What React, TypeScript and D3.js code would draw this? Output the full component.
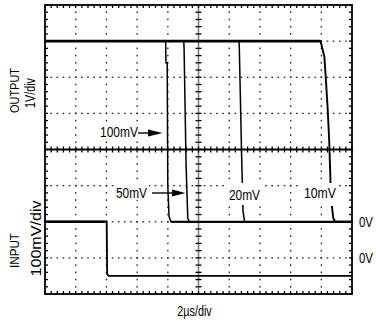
import React from "react";
import * as d3 from "d3";

// ---- data (time in µs, output in V, input in mV) ----
const timeDomain = [0, 20]; // 2µs/div, 10 divisions
const divDomain = [0, 8]; // 8 vertical divisions

const trace100mV_t = [0, 7.86, 7.88, 7.96, 8.0, 8.08, 8.2, 20];
const trace100mV_v = [5, 5, 4.4, 4.4, 1.0, 0.15, 0, 0];

const trace50mV_t = [0, 9.04, 9.06, 9.19, 9.3, 9.4, 20];
const trace50mV_v = [5, 5, 4.8, 1.6, 0.1, 0, 0];

const trace20mV_t = [0, 12.64, 12.66, 12.8, 12.9, 13.0, 20];
const trace20mV_v = [5, 5, 4.8, 2.0, 0.3, 0, 0];

const trace10mV_t = [0, 17.95, 18.2, 18.3, 18.42, 18.52, 18.6, 18.68, 18.78, 18.9, 20];
const trace10mV_v = [5, 5, 4.57, 3.93, 3.1, 2.18, 1.1, 0.47, 0.1, 0, 0];

const input_t = [0, 4.02, 4.05, 4.15, 20];
const input_mV = [100, 100, -45, -50, -50];

const traceLabels = ["100mV", "50mV", "20mV", "10mV"];
const zeroLabels = ["0V", "0V"];
const xAxisLabel = "2µs/div";
const outLabels = ["OUTPUT", "1V/div"];
const inLabels = ["INPUT", "100mV/div"];

const FONT = "'Liberation Sans Narrow', 'Liberation Sans', Arial, sans-serif";

export default function App() {
  const X0 = 45, X1 = 352, Y0 = 5, Y1 = 294;
  const x = d3.scaleLinear().domain(timeDomain).range([X0, X1]);
  const dv = d3.scaleLinear().domain(divDomain).range([Y1, Y0]);
  const outY = (v: number) => dv(v + 2); // 0V at division 2
  const inY = (mv: number) => dv(1 + mv / 100); // 0V at division 1

  const outLine = d3.line<[number, number]>().x((d) => x(d[0])).y((d) => outY(d[1]));
  const inLine = d3.line<[number, number]>().x((d) => x(d[0])).y((d) => inY(d[1]));
  const zip = (a: number[], b: number[]) => a.map((t, i) => [t, b[i]] as [number, number]);

  const xMinor = d3.range(0, 20.001, 0.4);
  const yMinor = d3.range(0, 8.001, 0.2);
  const xMajor = d3.range(2, 19, 2).filter((t) => t !== 10);
  const yMajor = d3.range(1, 8).filter((d) => d !== 4);

  const dots: JSX.Element[] = [];
  xMajor.forEach((t) =>
    yMinor.forEach((d, i) =>
      dots.push(<rect key={`v${t}-${i}`} x={x(t) - 0.6} y={dv(d) - 0.8} width={1.3} height={1.6} fill="#222" />)
    )
  );
  yMajor.forEach((d) =>
    xMinor.forEach((t, i) =>
      dots.push(<rect key={`h${d}-${i}`} x={x(t) - 0.8} y={dv(d) - 0.6} width={1.6} height={1.3} fill="#222" />)
    )
  );

  const ticks: JSX.Element[] = [];
  xMinor.forEach((t, i) => {
    ticks.push(<line key={`tt${i}`} x1={x(t)} x2={x(t)} y1={Y0} y2={Y0 + 3} />);
    ticks.push(<line key={`tb${i}`} x1={x(t)} x2={x(t)} y1={Y1 - 3} y2={Y1} />);
    ticks.push(<line key={`tc${i}`} x1={x(t)} x2={x(t)} y1={dv(4) - 3} y2={dv(4) + 3} />);
  });
  yMinor.forEach((d, i) => {
    ticks.push(<line key={`tl${i}`} x1={X0} x2={X0 + 3} y1={dv(d)} y2={dv(d)} />);
    ticks.push(<line key={`tr${i}`} x1={X1 - 3} x2={X1} y1={dv(d)} y2={dv(d)} />);
    ticks.push(<line key={`tv${i}`} x1={x(10) - 3} x2={x(10) + 3} y1={dv(d)} y2={dv(d)} />);
  });

  const traces = [
    zip(trace100mV_t, trace100mV_v),
    zip(trace50mV_t, trace50mV_v),
    zip(trace20mV_t, trace20mV_v),
    zip(trace10mV_t, trace10mV_v),
  ];

  return (
    <svg width={376} height={322} style={{ position: "absolute", left: 0, top: 0, background: "#fff" }}>
      <rect x={0} y={0} width={376} height={322} fill="#fff" />
      {dots}
      <line x1={x(10)} x2={x(10)} y1={Y0} y2={Y1} stroke="#777" strokeWidth={1.5} />
      <line x1={X0} x2={X1} y1={dv(4)} y2={dv(4)} stroke="#000" strokeWidth={1.8} />
      <g stroke="#000" strokeWidth={1.3}>{ticks}</g>
      <rect x={X0} y={Y0} width={X1 - X0} height={Y1 - Y0} fill="none" stroke="#000" strokeWidth={1.8} />

      {traces.map((tr, i) => (
        <path key={i} d={outLine(tr) || ""} fill="none" stroke="#000" strokeWidth={i === 3 ? 1.9 : 1.5} />
      ))}
      <path d={outLine([[0, 5], [17.95, 5]]) || ""} fill="none" stroke="#000" strokeWidth={2.6} />
      <path d={outLine([[8.2, 0], [20, 0]]) || ""} fill="none" stroke="#000" strokeWidth={2} />
      <path d={inLine(zip(input_t, input_mV)) || ""} fill="none" stroke="#000" strokeWidth={1.8} />
      <path d={inLine([[0, 100], [4.02, 100]]) || ""} fill="none" stroke="#000" strokeWidth={2.4} />

      {/* label backgrounds */}
      <rect x={98} y={123} width={42} height={16} fill="#fff" />
      <rect x={114} y={184} width={35} height={16} fill="#fff" />
      <rect x={227} y={183} width={35} height={22} fill="#fff" />
      <rect x={301} y={183} width={37} height={23} fill="#fff" />

      <g fontFamily={FONT} fontSize={15} fill="#000">
        <text x={100} y={137} textLength={38} lengthAdjust="spacingAndGlyphs">{traceLabels[0]}</text>
        <text x={116} y={198} textLength={31} lengthAdjust="spacingAndGlyphs">{traceLabels[1]}</text>
        <text x={229} y={200} textLength={31} lengthAdjust="spacingAndGlyphs">{traceLabels[2]}</text>
        <text x={304} y={198} textLength={32} lengthAdjust="spacingAndGlyphs">{traceLabels[3]}</text>
        <text x={359} y={227} textLength={14} lengthAdjust="spacingAndGlyphs">{zeroLabels[0]}</text>
        <text x={359} y={263} textLength={14} lengthAdjust="spacingAndGlyphs">{zeroLabels[1]}</text>
        <text x={194.5} y={316} textAnchor="middle" textLength={34.5} lengthAdjust="spacingAndGlyphs">{xAxisLabel}</text>
      </g>
      {/* arrows */}
      <line x1={138} x2={150} y1={133} y2={133} stroke="#000" strokeWidth={1.4} />
      <path d="M148,129.5 L162.5,133 L148,136.5 Z" fill="#000" />
      <line x1={152} x2={173} y1={193} y2={193} stroke="#000" strokeWidth={1.4} />
      <path d="M172,189.5 L185.5,193 L172,196.5 Z" fill="#000" />

      <g fontFamily={FONT} fill="#000">
        <text transform="translate(19,90.5) rotate(-90)" textAnchor="middle" fontSize={13} textLength={45} lengthAdjust="spacingAndGlyphs">{outLabels[0]}</text>
        <text transform="translate(35,93) rotate(-90)" textAnchor="middle" fontSize={14} textLength={30} lengthAdjust="spacingAndGlyphs">{outLabels[1]}</text>
        <text transform="translate(19.3,250.5) rotate(-90)" textAnchor="middle" fontSize={13} textLength={35} lengthAdjust="spacingAndGlyphs">{inLabels[0]}</text>
        <text transform="translate(41,238.5) rotate(-90)" textAnchor="middle" fontSize={15} textLength={76} lengthAdjust="spacingAndGlyphs">{inLabels[1]}</text>
      </g>
    </svg>
  );
}
